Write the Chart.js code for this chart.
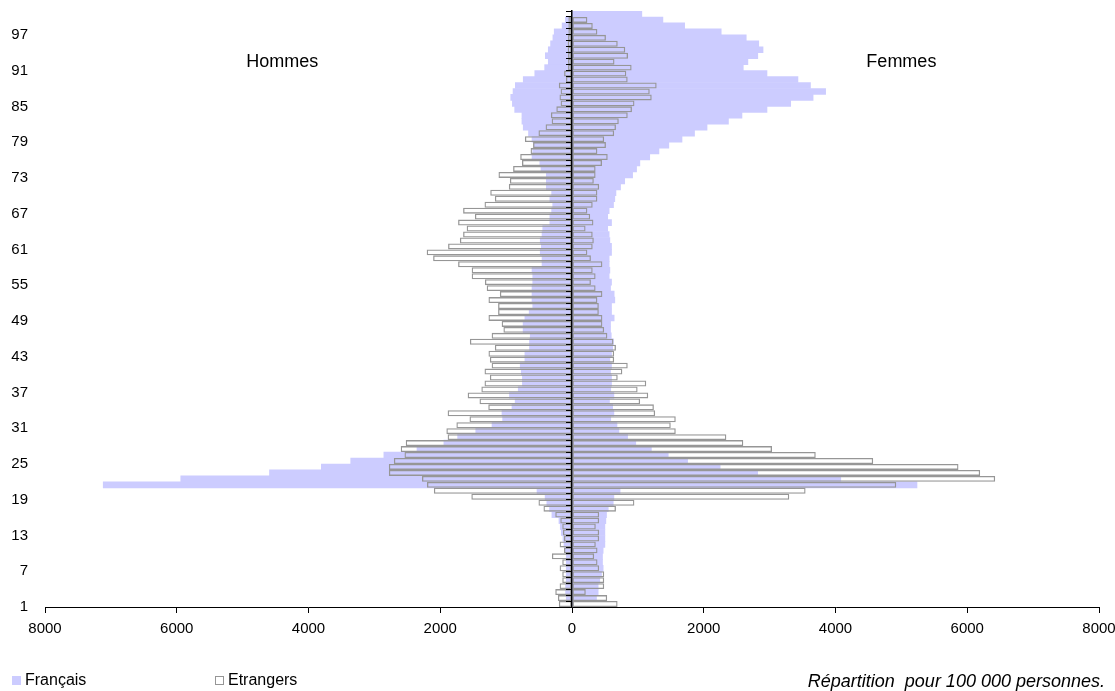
<!DOCTYPE html>
<html>
<head>
<meta charset="utf-8">
<script src="https://cdn.jsdelivr.net/npm/chart.js@4.4.1/dist/chart.umd.min.js"></script>
<style>
  body { margin: 0; background: #fff; }
  #wrap { position: relative; width: 1115px; height: 691px; font-family: "Liberation Sans", Arial, sans-serif; }
  .leg { position: absolute; top: 671px; font-size: 16px; color: #000; white-space: nowrap; }
  .leg i { display: inline-block; width: 9px; height: 9px; margin-right: 4px; vertical-align: 0; box-sizing: border-box; }
  .note { position: absolute; right: 10px; top: 671px; font-size: 18px; font-style: italic; color: #000; white-space: nowrap; }
</style>
</head>
<body>
<div id="wrap">
  <canvas id="pyramidChart"></canvas>
  <div class="leg" style="left:12px"><i style="background:#CCCCFF"></i>Français</div>
  <div class="leg" style="left:215px"><i style="border:1px solid #969696;background:#fff"></i>Etrangers</div>
  <div class="note">Répartition&nbsp; pour 100 000 personnes.</div>
</div>
<script>
// ages 1 to 100, values per 100 000 people
const ages = Array.from({ length: 100 }, (_, i) => String(i + 1));

const francaisHommes = [
    0, 87, 97, 97, 87, 87, 87, 87, 87, 102,
    122, 137, 163, 178, 198, 305, 341, 382, 408, 531,
    7116, 5939, 4592, 3805, 3359, 2856, 2353, 1945, 1736, 1461,
    1214, 1053, 1063, 911, 863, 949, 816, 753, 753, 770,
    786, 715, 715, 645, 645, 634, 742, 742, 715, 650,
    596, 607, 607, 607, 596, 596, 607, 455, 455, 482,
    466, 482, 455, 444, 336, 336, 309, 293, 336, 309,
    390, 390, 390, 471, 488, 607, 596, 580, 607, 660,
    740, 760, 760, 870, 905, 930, 895, 860, 740, 565,
    415, 360, 405, 360, 325, 290, 270, 150, 100, 0
];
const francaisFemmes = [
    0, 372, 397, 397, 422, 448, 473, 463, 463, 473,
    499, 499, 499, 499, 514, 524, 550, 626, 636, 730,
    5237, 4080, 2818, 2249, 1755, 1461, 1205, 968, 844, 712,
    683, 588, 636, 617, 569, 636, 588, 600, 600, 585,
    600, 575, 600, 618, 629, 596, 585, 585, 640, 600,
    600, 650, 640, 585, 600, 564, 575, 564, 564, 600,
    600, 575, 564, 542, 600, 542, 564, 630, 650, 667,
    737, 800, 920, 980, 1030, 1180, 1320, 1470, 1670, 1860,
    2050, 2375, 2580, 2960, 3320, 3660, 3850, 3620, 3430, 2960,
    2600, 2670, 2820, 2900, 2835, 2645, 2265, 1710, 1380, 1060
];
const etrangersHommes = [
    200, 214, 254, 188, 148, 148, 188, 148, 305, 122,
    188, 122, 137, 148, 178, 254, 433, 509, 1528, 2097,
    2201, 2277, 2780, 2780, 2704, 2543, 2600, 2524, 1888, 1907,
    1755, 1556, 1888, 1271, 1404, 1584, 1376, 1328, 1247, 1328,
    1220, 1247, 1268, 1171, 1550, 1220, 1041, 1068, 1268, 1122,
    1122, 1268, 1095, 1295, 1322, 1523, 1523, 1729, 2108, 2206,
    1881, 1702, 1653, 1599, 1729, 1474, 1653, 1328, 1171, 1241,
    959, 943, 1116, 894, 759, 786, 629, 591, 715, 509,
    401, 309, 320, 238, 173, 190, 173, 200, 92, 120,
    60, 60, 60, 65, 65, 60, 55, 55, 55, 0
];
const etrangersFemmes = [
    692, 534, 209, 489, 489, 489, 412, 387, 336, 387,
    361, 412, 412, 361, 412, 412, 667, 947, 3298, 3546,
    4922, 6424, 6196, 5867, 4572, 3700, 3036, 2600, 2343, 1575,
    1499, 1575, 1262, 1243, 1034, 1157, 996, 1127, 694, 764,
    846, 640, 640, 667, 629, 537, 488, 461, 461, 407,
    407, 385, 461, 358, 287, 358, 314, 461, 287, 233,
    314, 331, 314, 206, 325, 276, 233, 314, 385, 385,
    412, 331, 358, 358, 455, 542, 385, 515, 488, 640,
    667, 710, 846, 910, 948, 1210, 1180, 1285, 845, 824,
    905, 645, 850, 808, 694, 515, 385, 315, 233, 0
];
const xTicks = [-8000, -6000, -4000, -2000, 0, 2000, 4000, 6000, 8000];

const FONT = '"Liberation Sans", Arial, sans-serif';
const LAVENDER = "#CCCCFF";
const GREY = "#969696";

const neg = arr => arr.map(v => -v);

const frStyle = {
    backgroundColor: LAVENDER,
    borderWidth: 0,
    grouped: false,
    barPercentage: 1,
    categoryPercentage: 1,
    order: 2
};
const etStyle = {
    backgroundColor: "rgba(255,255,255,0)",
    borderColor: GREY,
    borderWidth: 1.3,
    borderSkipped: false,
    grouped: false,
    barPercentage: 1,
    categoryPercentage: 1,
    inflateAmount: 0,
    order: 1
};

const sideLabels = {
    id: "sideLabels",
    afterDraw(chart) {
        const { ctx, scales: { x, y } } = chart;
        const yy = y.getPixelForValue(ages.indexOf("92"));
        ctx.save();
        ctx.font = "18px " + FONT;
        ctx.fillStyle = "#000";
        ctx.textAlign = "center";
        ctx.textBaseline = "middle";
        ctx.fillText("Hommes", x.getPixelForValue(-4400), yy);
        ctx.fillText("Femmes", x.getPixelForValue(5000), yy);
        ctx.restore();
    }
};

const ctxPyramid = document.getElementById("pyramidChart").getContext("2d");
new Chart(ctxPyramid, {
    type: "bar",
    data: {
        labels: ages,
        datasets: [
            { label: "Français", data: neg(francaisHommes), ...frStyle },
            { label: "Français", data: francaisFemmes, ...frStyle },
            { label: "Etrangers", data: neg(etrangersHommes), ...etStyle },
            { label: "Etrangers", data: etrangersFemmes, ...etStyle }
        ]
    },
    options: {
        indexAxis: "y",
        responsive: true,
        maintainAspectRatio: false,
        animation: false,
        layout: { padding: { top: 11, right: 16, bottom: 49, left: 0 } },
        plugins: {
            legend: { display: false },
            tooltip: { enabled: false }
        },
        scales: {
            x: {
                type: "linear",
                min: -8000,
                max: 8000,
                afterBuildTicks: scale => { scale.ticks = xTicks.map(v => ({ value: v })); },
                afterFit: scale => {
                    scale.height = 35;
                    scale.paddingLeft = 0;
                    scale.paddingRight = 0;
                },
                ticks: {
                    callback: v => Math.abs(v),
                    color: "#000",
                    font: { family: FONT, size: 15 },
                    padding: 7,
                    maxRotation: 0
                },
                grid: { drawOnChartArea: false, color: "#000", tickLength: 6, z: 1 },
                border: { color: "#000", width: 1, z: 1 }
            },
            y: {
                type: "category",
                position: "left",
                reverse: true,
                offset: true,
                afterFit: scale => {
                    scale.width = 45;
                    scale.paddingTop = 0;
                    scale.paddingBottom = 0;
                },
                ticks: {
                    autoSkip: false,
                    color: "#000",
                    font: { family: FONT, size: 15 },
                    padding: 9,
                    labelOffset: 3,
                    callback: (val, i) => ((i % 6) === 0 ? ages[i] : "")
                },
                grid: { display: false },
                border: { display: false }
            },
            y2: {
                type: "category",
                axis: "y",
                position: { x: 0 },
                reverse: true,
                offset: true,
                afterFit: scale => {
                    scale.paddingTop = 0;
                    scale.paddingBottom = 0;
                },
                ticks: { display: false, autoSkip: false },
                grid: { offset: true, drawOnChartArea: false, color: "#000", tickLength: 5, z: 1 },
                border: { color: "#000", width: 1.5, z: 1 }
            }
        }
    },
    plugins: [sideLabels]
});
</script>
</body>
</html>
